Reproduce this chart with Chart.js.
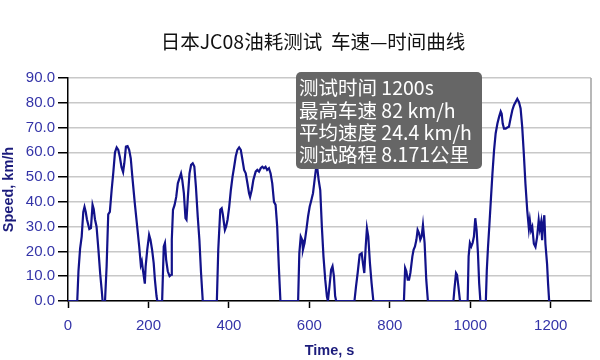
<!DOCTYPE html>
<html><head><meta charset="utf-8">
<script src="https://cdn.jsdelivr.net/npm/chart.js@4"></script>
<style>html,body{margin:0;padding:0;background:#fff}#wrap{width:600px;height:360px}</style>
</head><body><div id="wrap"><canvas id="c" width="600" height="360"></canvas></div>
<script>
const titleText = "日本JC08油耗测试  车速—时间曲线";
const infoLines = ["测试时间 1200s", "最高车速 82 km/h", "平均速度 24.4 km/h", "测试路程 8.171公里"];
const xTitle = "Time, s";
const yTitle = "Speed, km/h";
const timeSec = [0,23,26,30,34,38,41,44,47,53,57,61,64,67,71,75.6,80,84,86,92,96,100,104,108.6,112.7,116.8,121,125,129,133,137,140,144,148,152,156,160,166,172,177,181,183.5,186.7,191,193,197,201.6,205,209,213,216,220,222,234,238,241,244,248,252.5,256.7,258,261,265,269,273,277,281,284,288,292,294.5,298,302,306,310,314,318,322.5,326.6,330.7,335,370,373.5,378.5,382,385,390,393,396.6,400.7,404.8,409,413,417,421,425.4,429.5,433.6,437.7,441.8,446,450,452.6,456.7,460.8,466.5,470.6,474.8,479,483,487,491,495,499.5,503.6,507.7,512,516,520,524,528,572,575,578.5,582,584,588,592.5,596.6,600.7,605,609,613,617,619.7,623,627,631,635,639.4,643.5,646,650,654,657.5,661,664,666.6,712,716,720,725,730,733,736.5,740,743,746.4,750.5,754.6,759,835,838,841,844.4,847.7,851,856,859,862.5,866,869,872.4,875.7,879,882.3,886.4,890.5,894.6,958,960.4,964.5,967,970.3,974.4,993.4,995.8,999,1002.4,1005.7,1009,1012.3,1015.6,1019,1022,1025,1038.6,1041,1044,1047.6,1051,1055,1059,1063,1067.4,1071.5,1075.6,1078,1080.5,1083.8,1088,1092,1096,1100,1104.4,1108.5,1112.6,1116.8,1121,1125,1129,1133,1137,1141.5,1145.6,1148,1151,1154,1158,1162,1166,1170,1172.7,1176,1178.5,1181,1184,1186.7,1190.8,1193.3,1196,1200];
const speedKmh = [0,0,12,21,26,36,38,36,33,29,29.4,38.8,37,33,30,20.7,11,4,0,0,14,35,36,45,52,60,62,61,58,54,52,55.6,62.3,62.5,61,57.6,50,39.5,30,22,14.6,16,12,7,14,20.7,26.7,24.7,20.7,15.3,8.6,2,0,0,22,23.4,16.6,12,10,10.6,24.7,36.8,38.8,42,47.5,49.5,51.5,48.9,43.5,33.4,32.8,42,51.5,55,55.6,54.3,46,34,24.7,11.3,0,0,20.7,36.8,37.4,34.8,28.7,30,32.8,38,44.8,50.2,54.2,58.4,61,62,61,57,52.9,51.5,47.5,43.5,42,44.8,48.9,52.2,52.9,52.2,53.6,54.2,53.6,54.2,52.9,53.6,51.5,47.5,40,38.8,30,14,0,0,19.3,26,24.7,20.7,23.4,28.7,34,38,40.8,43.5,48.9,54.2,53.6,48.9,44.8,30,18,8.6,1.9,0,6,12.6,14,10,2,0,0,6,11.3,18.7,19.3,15.3,11.3,22,29.4,26,15.3,7.2,0,0,13.3,12,8.6,8.6,11.3,18,20.7,22,24.7,28.7,27.4,24.7,26,30.7,23.4,8.6,0,0,4.6,11.3,10.6,6,0,0,18,23.4,22,23.4,26,33.4,28.7,19.3,7.2,0,0,12.4,21.8,31.2,40.6,51.4,60.8,67.6,71.6,74.3,76.5,75.6,71.6,69.6,69.6,70,70.3,73.6,77,79,80.3,81.6,80.3,77.7,70.3,59.5,47.4,36.6,29.2,32.6,28.5,29.9,23.1,21.8,25.8,32.6,29,31.9,24.5,31.2,34.6,23.1,15,7,0,0];
const xTickValues = [0,200,400,600,800,1000,1200];
const yTickValues = [0,10,20,30,40,50,60,70,80,90];

const points = timeSec.map((t, i) => ({x: t, y: speedKmh[i]}));

const overlay = {
  id: 'overlay',
  afterDraw(chart) {
    const ctx = chart.ctx;
    ctx.save();
    const a = chart.chartArea;
    ctx.strokeStyle = '#a0a0a0';
    ctx.lineWidth = 1.5;
    ctx.beginPath();
    ctx.moveTo(a.right, a.top);
    ctx.lineTo(a.right, a.bottom);
    ctx.stroke();
    // title
    ctx.fillStyle = '#111';
    ctx.font = '19.5px "Noto Sans CJK SC", sans-serif';
    ctx.textAlign = 'center';
    ctx.textBaseline = 'middle';
    ctx.fillText(titleText, 313, 42);
    // info box
    const bx = 296, by = 72, bw = 186, bh = 97, r = 5;
    ctx.fillStyle = '#666666';
    ctx.beginPath();
    ctx.moveTo(bx + r, by);
    ctx.lineTo(bx + bw - r, by);
    ctx.arcTo(bx + bw, by, bx + bw, by + r, r);
    ctx.lineTo(bx + bw, by + bh - r);
    ctx.arcTo(bx + bw, by + bh, bx + bw - r, by + bh, r);
    ctx.lineTo(bx + r, by + bh);
    ctx.arcTo(bx, by + bh, bx, by + bh - r, r);
    ctx.lineTo(bx, by + r);
    ctx.arcTo(bx, by, bx + r, by, r);
    ctx.closePath();
    ctx.fill();
    ctx.fillStyle = '#ffffff';
    ctx.textAlign = 'left';
    ctx.font = '19.5px "Noto Sans CJK SC", sans-serif';
    infoLines.forEach((s, i) => ctx.fillText(s, 299, 88 + i * 22.3));
    ctx.restore();
  }
};

new Chart(document.getElementById('c'), {
  type: 'line',
  data: {
    datasets: [{
      data: points,
      borderColor: '#12128a',
      borderWidth: 2.2,
      pointRadius: 0,
      tension: 0,
      fill: false
    }]
  },
  options: {
    responsive: false,
    animation: false,
    parsing: false,
    layout: { padding: { top: 78, right: 9, left: 0, bottom: 0 } },
    plugins: { legend: { display: false }, tooltip: { enabled: false }, title: { display: false } },
    scales: {
      x: {
        type: 'linear', min: 0, max: 1300,
        afterFit(s) { s.height = 59; },
        afterBuildTicks(s) { s.ticks = xTickValues.map(v => ({value: v})); },
        ticks: { includeBounds: false, color: '#3434a8', font: { family: '"Liberation Sans", Arial, sans-serif', size: 15 }, padding: 9, maxRotation: 0, callback: v => String(v) },
        grid: { drawOnChartArea: false, drawTicks: true, tickLength: 7, tickColor: '#000', tickWidth: 1.5 },
        border: { color: '#000', width: 1.5 },
        title: { display: true, text: xTitle, color: '#1c1c7c', font: { family: '"Liberation Sans", Arial, sans-serif', size: 14.5, weight: 'bold' }, padding: { top: 0, bottom: 0 } }
      },
      y: {
        type: 'linear', min: 0, max: 90,
        afterFit(s) { s.width = 68; },
        afterBuildTicks(s) { s.ticks = yTickValues.map(v => ({value: v})); },
        ticks: { color: '#3434a8', font: { family: '"Liberation Sans", Arial, sans-serif', size: 15 }, padding: 3, callback: v => Number(v).toFixed(1) },
        grid: { color: '#c8c8c8', lineWidth: 1.5, drawTicks: true, tickLength: 10, tickColor: '#000', tickWidth: 1.5 },
        border: { color: '#000', width: 1.5 },
        title: { display: true, text: yTitle, color: '#1c1c7c', font: { family: '"Liberation Sans", Arial, sans-serif', size: 14.5, weight: 'bold' }, padding: { top: 0, bottom: 0 } }
      }
    }
  },
  plugins: [overlay]
});
</script>
</body></html>
